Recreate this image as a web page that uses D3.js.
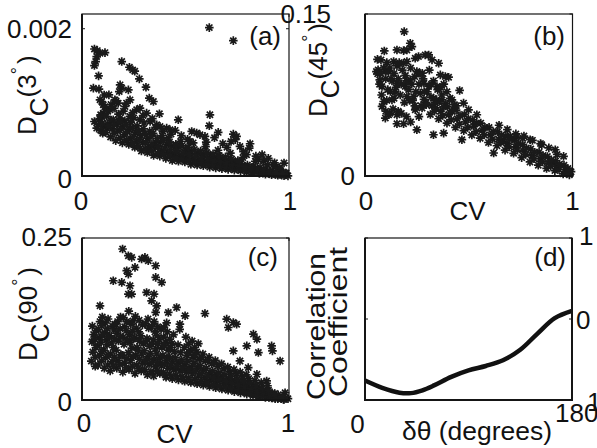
<!DOCTYPE html>
<html><head><meta charset="utf-8">
<script src="https://cdn.jsdelivr.net/npm/d3@7"></script>
<style>
body{margin:0;background:#fff}
svg{display:block}
text{font-family:"Liberation Sans",Arial,Helvetica,sans-serif;fill:#111}
</style>
</head><body>
<svg id="chart" width="597" height="448"></svg>
<script>
// ---------------- DATA ----------------
// Panel (a): CV vs D_C(3°)
const pointsA = [
[0.615,0.002015],[0.731,0.001838],
[0.060,0.001725],[0.074,0.001703],[0.087,0.001667],[0.111,0.001676],[0.071,0.001622],[0.066,0.001554],[0.060,0.0015],[0.080,0.00136],[0.055,0.001193],[0.087,0.001034],[0.095,0.001012],[0.103,0.000967],
[0.192,0.001554],[0.229,0.001477],[0.245,0.001441],[0.255,0.001423],[0.277,0.001319],[0.309,0.001206],[0.325,0.001057],[0.345,0.001012],[0.374,0.000845],
[0.184,0.001238],[0.192,0.001193],[0.224,0.00117],[0.180,0.001147],[0.130,0.001102],[0.159,0.001034],[0.175,0.000989],[0.208,0.000944],[0.232,0.001034],[0.264,0.000899],[0.280,0.000921],[0.312,0.000854],[0.135,0.000899],[0.103,0.000854],[0.095,0.000809],[0.090,0.000831],[0.079,0.000696],[0.103,0.000673],[0.119,0.00065],[0.071,0.00065],[0.151,0.000763],[0.184,0.000786],[0.232,0.000809],[0.280,0.000763],[0.329,0.000741],[0.361,0.000696],[0.377,0.000673],[0.409,0.00065],[0.425,0.000628],[0.465,0.000763],[0.530,0.000605],[0.554,0.000583],[0.570,0.00056],[0.594,0.000538],[0.618,0.000831],[0.615,0.000682],[0.658,0.000592],[0.731,0.000569],[0.747,0.000538],[0.740,0.000492],[0.763,0.000402],[0.812,0.000438],[0.808,0.000379],[0.795,0.000289],[0.852,0.000221],[0.877,0.000199],[0.924,0.000154],[0.976,0.000176],[0.986,0.000041],[0.957,0.000086],[0.940,0.000131],
[0.085,0.00078],[0.098,0.00072],[0.11,0.00094],[0.125,0.00088],[0.14,0.00097],[0.155,0.00092],[0.165,0.00102],[0.2,0.00088],[0.215,0.00099],[0.245,0.00086],[0.25,0.00079],[0.295,0.00082],[0.3,0.00072],[0.34,0.00078],[0.355,0.00066],[0.39,0.00061],[0.43,0.00057],[0.45,0.00062],[0.48,0.00055],[0.51,0.0005],[0.09,0.00062],[0.1,0.00058],[0.107,0.0011],[0.082,0.00118],[0.06,0.00074],
[0.52,0.00047],[0.6,0.00046],[0.64,0.00052],[0.68,0.00044],[0.7,0.00039],[0.72,0.00047],[0.78,0.00033],[0.84,0.00027],[0.87,0.00029],[0.9,0.00024],[0.93,0.00018],
[0.115,5.9e-4],[0.125,7.1e-4],[0.118,8.1e-4],
[0.138,5.3e-4],[0.146,6.4e-4],[0.141,7.6e-4],
[0.163,4.8e-4],[0.172,6.1e-4],[0.168,7.0e-4],[0.176,8.4e-4],
[0.195,4.5e-4],[0.204,5.6e-4],[0.198,6.7e-4],[0.207,7.5e-4],
[0.226,4.3e-4],[0.233,5.1e-4],[0.228,6.3e-4],[0.236,7.3e-4],
[0.255,3.9e-4],[0.263,4.7e-4],[0.258,5.9e-4],[0.266,6.8e-4],
[0.287,3.4e-4],[0.294,4.5e-4],[0.284,5.5e-4],[0.296,6.4e-4],
[0.316,3.2e-4],[0.323,4.0e-4],[0.318,5.1e-4],[0.327,6.1e-4],
[0.346,2.8e-4],[0.352,3.9e-4],[0.355,4.6e-4],[0.344,5.8e-4],
[0.376,2.7e-4],[0.384,3.4e-4],[0.379,4.6e-4],[0.387,5.5e-4],
[0.405,2.4e-4],[0.414,3.2e-4],[0.409,4.3e-4],[0.417,5.2e-4],
[0.436,2.1e-4],[0.445,3.0e-4],[0.441,4.1e-4],
[0.466,2.0e-4],[0.473,2.8e-4],[0.468,3.9e-4],[0.476,4.7e-4],
[0.497,1.9e-4],[0.505,2.6e-4],[0.501,3.5e-4],
[0.526,1.6e-4],[0.534,2.4e-4],[0.528,3.3e-4],[0.537,4.5e-4],
[0.556,1.5e-4],[0.564,2.2e-4],[0.559,3.1e-4],
[0.586,1.4e-4],[0.593,2.0e-4],[0.588,2.9e-4],[0.597,4.0e-4],
[0.617,1.2e-4],[0.624,1.9e-4],[0.621,2.7e-4],
[0.646,1.1e-4],[0.655,1.7e-4],[0.649,2.5e-4],[0.657,3.5e-4],
[0.676,1.0e-4],[0.684,1.6e-4],[0.679,2.3e-4],
[0.706,0.9e-4],[0.714,1.5e-4],[0.709,2.1e-4],[0.717,3.1e-4],
[0.736,0.8e-4],[0.744,1.3e-4],[0.739,1.9e-4],
[0.766,0.7e-4],[0.774,1.2e-4],[0.769,1.7e-4],[0.777,2.5e-4],
[0.796,0.55e-4],[0.804,0.95e-4],[0.799,1.5e-4],
[0.826,0.45e-4],[0.834,0.85e-4],[0.829,1.3e-4],[0.837,2.0e-4],
[0.857,0.35e-4],[0.865,0.7e-4],[0.86,1.15e-4],
[0.886,0.25e-4],[0.893,0.55e-4],[0.889,0.95e-4],[0.896,1.5e-4],
[0.916,0.18e-4],[0.924,0.45e-4],[0.919,0.75e-4],
[0.946,0.1e-4],[0.953,0.3e-4],[0.949,0.6e-4],[0.955,1.05e-4],
[0.976,0.05e-4],[0.984,0.2e-4],[0.981,0.4e-4],[0.995,0.02e-4],
[0.13,6.8e-4],[0.155,5.8e-4],[0.158,7.0e-4],[0.185,5.2e-4],[0.188,6.4e-4],[0.183,7.4e-4],[0.215,4.9e-4],[0.218,6.0e-4],[0.213,7.0e-4],[0.245,4.4e-4],[0.248,5.4e-4],[0.243,6.5e-4],[0.275,4.0e-4],[0.278,5.0e-4],[0.273,6.1e-4],[0.305,3.7e-4],[0.308,4.6e-4],[0.303,5.7e-4],[0.335,3.4e-4],[0.338,4.3e-4],[0.333,5.4e-4],[0.365,3.1e-4],[0.368,4.0e-4],[0.363,5.1e-4],[0.395,2.9e-4],[0.398,3.8e-4],[0.393,4.8e-4],[0.425,2.7e-4],[0.428,3.6e-4],[0.423,4.6e-4],[0.455,2.5e-4],[0.458,3.4e-4],[0.453,4.3e-4],[0.485,2.3e-4],[0.488,3.1e-4],[0.483,4.1e-4],[0.515,2.1e-4],[0.518,2.9e-4],[0.513,3.9e-4],[0.545,1.9e-4],[0.548,2.7e-4],[0.543,3.6e-4],[0.575,1.8e-4],[0.578,2.5e-4],[0.573,3.4e-4],[0.605,1.6e-4],[0.608,2.3e-4],[0.603,3.2e-4],[0.635,1.5e-4],[0.638,2.1e-4],[0.633,3.0e-4],[0.665,1.3e-4],[0.668,2.0e-4],[0.663,2.8e-4],[0.695,1.2e-4],[0.698,1.8e-4],[0.693,2.6e-4],[0.725,1.1e-4],[0.728,1.6e-4],[0.723,2.3e-4],[0.755,0.95e-4],[0.758,1.45e-4],[0.753,2.1e-4],[0.785,0.8e-4],[0.788,1.3e-4],[0.815,0.65e-4],[0.818,1.1e-4],[0.845,0.55e-4],[0.848,0.95e-4],[0.875,0.4e-4],[0.878,0.8e-4],[0.905,0.3e-4],[0.908,0.6e-4],[0.935,0.2e-4],[0.938,0.45e-4],[0.965,0.1e-4],[0.968,0.3e-4]
];
// Panel (b): CV vs D_C(45°)
const pointsB = [
[0.189,0.1337],[0.218,0.1229],[0.226,0.1198],[0.202,0.1167],[0.186,0.1161],[0.154,0.1167],[0.093,0.1158],[0.077,0.1075],[0.063,0.0983],[0.055,0.0967],[0.061,0.0946],[0.071,0.089],[0.082,0.0829],[0.098,0.0967],[0.114,0.0967],[0.138,0.106],[0.154,0.1019],[0.186,0.1044],[0.202,0.106],[0.242,0.109],[0.258,0.1106],[0.29,0.1121],[0.307,0.1121],[0.323,0.1075],[0.355,0.1044],[0.25,0.0967],[0.276,0.0952],[0.284,0.0859],[0.363,0.0936],[0.387,0.0921],[0.403,0.0915],[0.218,0.089],[0.194,0.0829],[0.154,0.0859],[0.122,0.0782],[0.13,0.0705],[0.09,0.069],[0.082,0.0644],[0.098,0.0536],[0.114,0.0567],[0.154,0.0484],[0.186,0.0484],[0.25,0.0428],[0.154,0.0567],[0.242,0.0613],[0.202,0.0736],[0.234,0.0736],[0.266,0.0767],[0.307,0.0829],[0.347,0.0829],[0.33,0.0721],[0.371,0.0705],[0.419,0.0705],[0.456,0.0792],[0.432,0.0659],[0.475,0.0675],[0.499,0.0613],[0.539,0.0567],[0.33,0.0382],[0.379,0.0397],[0.467,0.0336],[0.62,0.0213],[0.668,0.0336],[0.7,0.0367],[0.73,0.036],[0.76,0.035],[0.796,0.0336],[0.852,0.029],[0.917,0.0243],[0.957,0.0182],[0.911,0.012],[0.981,0.0028],
[0.07,0.085],[0.08,0.075],[0.1,0.09],[0.11,0.08],[0.12,0.1],[0.13,0.088],[0.14,0.095],[0.15,0.082],[0.16,0.09],[0.17,0.075],[0.18,0.098],[0.19,0.068],[0.2,0.088],[0.21,0.08],[0.22,0.1],[0.23,0.07],[0.24,0.092],[0.26,0.085],[0.27,0.065],[0.28,0.09],[0.3,0.078],[0.31,0.098],[0.33,0.088],[0.34,0.063],[0.35,0.08],[0.37,0.075],[0.38,0.085],[0.39,0.067],[0.41,0.072],[0.42,0.06],[0.44,0.065],[0.1,0.06],[0.12,0.058],[0.16,0.06],[0.2,0.055],[0.22,0.05],[0.24,0.065],[0.26,0.055],[0.14,0.072],[0.09,0.1],[0.06,0.108],
[0.075,0.095],[0.105,0.105],[0.125,0.09],[0.145,0.078],[0.165,0.105],[0.175,0.085],[0.195,0.093],[0.215,0.07],[0.225,0.085],[0.245,0.078],[0.265,0.095],[0.285,0.078],[0.295,0.068],[0.32,0.085],[0.345,0.07],[0.365,0.082],[0.395,0.078],[0.105,0.07],[0.135,0.062],[0.175,0.058],
[0.275,0.063],[0.284,0.071],
[0.315,0.057],[0.323,0.065],[0.318,0.073],
[0.355,0.053],[0.364,0.06],[0.358,0.069],
[0.395,0.049],[0.404,0.057],[0.398,0.064],
[0.436,0.045],[0.444,0.053],[0.439,0.061],
[0.476,0.042],[0.484,0.05],[0.479,0.057],
[0.515,0.038],[0.524,0.046],[0.519,0.052],
[0.555,0.035],[0.564,0.042],[0.558,0.049],
[0.595,0.031],[0.604,0.038],[0.598,0.045],
[0.636,0.028],[0.644,0.034],[0.639,0.041],[0.646,0.047],
[0.675,0.024],[0.684,0.03],[0.679,0.037],[0.686,0.043],
[0.716,0.021],[0.724,0.027],[0.719,0.033],[0.727,0.039],
[0.755,0.017],[0.764,0.023],[0.759,0.029],[0.766,0.037],
[0.795,0.013],[0.804,0.019],[0.799,0.025],[0.807,0.033],
[0.835,0.01],[0.844,0.016],[0.839,0.022],[0.846,0.03],
[0.875,0.007],[0.884,0.012],[0.879,0.018],[0.886,0.026],
[0.915,0.005],[0.924,0.009],[0.919,0.014],[0.926,0.02],
[0.955,0.002],[0.964,0.006],[0.959,0.01],
[0.985,0.001],[0.993,0.004],
[0.295,0.066],[0.335,0.06],[0.338,0.068],[0.375,0.056],[0.378,0.064],[0.415,0.052],[0.418,0.06],[0.455,0.048],[0.458,0.056],[0.495,0.045],[0.498,0.053],[0.535,0.041],[0.538,0.049],[0.575,0.038],[0.578,0.045],[0.615,0.034],[0.618,0.041],[0.655,0.031],[0.658,0.038],[0.695,0.027],[0.698,0.034],[0.735,0.024],[0.738,0.03],[0.775,0.02],[0.778,0.026],[0.815,0.016],[0.818,0.022],[0.855,0.013],[0.858,0.019],[0.895,0.009],[0.898,0.015],[0.935,0.006],[0.938,0.011],[0.975,0.003],[0.978,0.007]
];
// Panel (c): CV vs D_C(90°)
const pointsC = [
[0.196,0.233],[0.224,0.2227],[0.24,0.2201],[0.288,0.2175],[0.304,0.2201],[0.32,0.215],[0.356,0.2072],[0.256,0.2046],[0.216,0.1995],[0.224,0.1943],[0.356,0.1892],[0.385,0.1815],[0.151,0.184],[0.192,0.1815],[0.232,0.1763],[0.224,0.1634],[0.24,0.1634],[0.312,0.166],[0.348,0.1634],[0.336,0.1531],[0.361,0.1454],[0.457,0.1428],[0.087,0.1454],[0.356,0.1351],[0.417,0.1351],[0.498,0.1299],[0.594,0.1335],[0.473,0.117],[0.699,0.1248],[0.731,0.1196],[0.747,0.117],[0.707,0.1119],[0.828,0.1016],[0.845,0.0938],[0.916,0.0835],[0.92,0.0758],[0.957,0.0603],[0.852,0.0732],[0.796,0.0835],[0.731,0.0758],[0.763,0.0603],[0.803,0.05],[0.845,0.0397],[0.892,0.0294],[0.981,0.0113],[0.973,0.001],
[0.045,0.06],[0.052,0.074],[0.048,0.09],[0.056,0.101],[0.05,0.114],
[0.078,0.054],[0.085,0.069],[0.076,0.084],[0.083,0.096],[0.079,0.109],[0.087,0.121],
[0.108,0.049],[0.114,0.065],[0.105,0.077],[0.117,0.093],[0.11,0.104],[0.113,0.119],
[0.136,0.045],[0.145,0.059],[0.138,0.071],[0.143,0.088],[0.134,0.099],[0.147,0.114],
[0.168,0.049],[0.174,0.061],[0.165,0.077],[0.176,0.091],[0.169,0.103],[0.172,0.121],
[0.197,0.043],[0.205,0.057],[0.194,0.069],[0.203,0.086],[0.198,0.097],[0.206,0.113],[0.2,0.127],
[0.227,0.047],[0.235,0.061],[0.224,0.073],[0.233,0.089],[0.229,0.101],[0.236,0.117],[0.226,0.137],
[0.256,0.041],[0.264,0.054],[0.259,0.069],[0.266,0.081],[0.254,0.096],[0.262,0.111],[0.258,0.129],
[0.286,0.045],[0.294,0.057],[0.288,0.071],[0.296,0.087],[0.284,0.099],[0.292,0.116],
[0.316,0.039],[0.324,0.055],[0.318,0.067],[0.326,0.083],[0.314,0.095],[0.322,0.111],[0.319,0.125],
[0.346,0.037],[0.354,0.051],[0.348,0.063],[0.356,0.079],[0.344,0.093],[0.352,0.105],[0.349,0.121],
[0.376,0.041],[0.384,0.053],[0.378,0.065],[0.386,0.081],[0.374,0.093],[0.382,0.109],
[0.406,0.035],[0.414,0.049],[0.408,0.061],[0.416,0.077],[0.404,0.089],[0.412,0.105],[0.409,0.119],
[0.436,0.033],[0.444,0.047],[0.438,0.059],[0.446,0.075],[0.434,0.087],[0.442,0.101],
[0.466,0.031],[0.474,0.045],[0.468,0.057],[0.476,0.073],[0.464,0.085],[0.472,0.109],
[0.496,0.029],[0.504,0.043],[0.498,0.054],[0.506,0.069],[0.494,0.081],[0.502,0.097],
[0.526,0.027],[0.534,0.041],[0.528,0.051],[0.536,0.066],[0.524,0.077],[0.532,0.091],
[0.556,0.025],[0.564,0.037],[0.558,0.049],[0.566,0.063],[0.554,0.074],[0.562,0.087],
[0.586,0.023],[0.594,0.034],[0.588,0.046],[0.596,0.06],[0.584,0.071],
[0.616,0.021],[0.624,0.031],[0.618,0.042],[0.626,0.056],[0.614,0.066],
[0.646,0.019],[0.654,0.029],[0.648,0.039],[0.656,0.052],[0.644,0.061],
[0.676,0.017],[0.684,0.026],[0.678,0.036],[0.686,0.048],[0.674,0.056],
[0.706,0.015],[0.714,0.024],[0.708,0.033],[0.716,0.044],[0.704,0.051],
[0.736,0.013],[0.744,0.021],[0.738,0.03],[0.746,0.041],[0.734,0.047],
[0.766,0.011],[0.774,0.019],[0.768,0.027],[0.776,0.037],[0.764,0.043],
[0.796,0.009],[0.804,0.016],[0.798,0.024],[0.806,0.033],[0.794,0.039],
[0.826,0.007],[0.834,0.014],[0.828,0.021],[0.836,0.03],
[0.856,0.005],[0.864,0.011],[0.858,0.018],[0.866,0.027],
[0.886,0.004],[0.894,0.008],[0.888,0.014],[0.896,0.022],
[0.916,0.003],[0.924,0.006],[0.918,0.011],
[0.946,0.002],[0.954,0.004],[0.948,0.008],
[0.976,0.001],[0.984,0.003],[0.995,0.002],
[0.063,0.066],[0.067,0.081],[0.061,0.094],[0.069,0.107],[0.064,0.052],
[0.094,0.06],[0.097,0.075],[0.092,0.089],[0.099,0.101],[0.095,0.115],[0.098,0.128],
[0.124,0.054],[0.127,0.07],[0.121,0.085],[0.129,0.098],[0.123,0.11],[0.126,0.125],
[0.153,0.052],[0.158,0.066],[0.151,0.081],[0.157,0.095],[0.154,0.108],[0.159,0.117],
[0.183,0.055],[0.188,0.07],[0.187,0.098],[0.184,0.11],[0.186,0.128],
[0.213,0.05],[0.217,0.064],[0.218,0.093],[0.214,0.107],[0.216,0.121],
[0.243,0.052],[0.247,0.067],[0.241,0.08],[0.248,0.094],[0.244,0.106],[0.246,0.122],
[0.273,0.049],[0.277,0.063],[0.271,0.077],[0.278,0.091],[0.274,0.105],[0.276,0.123],
[0.303,0.047],[0.307,0.062],[0.301,0.076],[0.308,0.09],[0.306,0.118],
[0.333,0.044],[0.337,0.058],[0.331,0.072],[0.338,0.086],[0.336,0.114],
[0.363,0.045],[0.367,0.058],[0.361,0.071],[0.368,0.087],[0.364,0.099],[0.366,0.113],
[0.393,0.042],[0.397,0.056],[0.391,0.069],[0.398,0.084],[0.394,0.097],[0.396,0.112],
[0.423,0.04],[0.427,0.054],[0.421,0.067],[0.428,0.081],[0.424,0.094],
[0.453,0.038],[0.457,0.052],[0.451,0.065],
[0.483,0.036],[0.487,0.049],[0.481,0.062],
[0.513,0.034],[0.517,0.047],[0.511,0.06],[0.518,0.074],[0.514,0.086],
[0.543,0.032],[0.547,0.044],[0.541,0.057],[0.548,0.07],[0.544,0.081],
[0.573,0.029],[0.577,0.041],[0.571,0.053],[0.578,0.066],
[0.603,0.027],[0.607,0.037],[0.601,0.049],[0.608,0.061],
[0.633,0.024],[0.637,0.034],[0.631,0.045],[0.638,0.057],
[0.663,0.022],[0.667,0.032],[0.661,0.042],
[0.693,0.02],[0.697,0.029],[0.691,0.039],
[0.723,0.018],[0.727,0.026],[0.721,0.036],
[0.753,0.015],[0.757,0.023],[0.751,0.032],
[0.783,0.013],[0.787,0.021],[0.781,0.029],
[0.813,0.011],[0.817,0.018],[0.811,0.026],
[0.843,0.008],[0.847,0.015],[0.841,0.022],
[0.873,0.006],[0.877,0.012],[0.871,0.018],
[0.903,0.004],[0.907,0.009],[0.901,0.015],
[0.933,0.002],[0.937,0.006],[0.931,0.01],
[0.963,0.002],[0.967,0.005]
];
// Panel (d): correlation coefficient vs angle difference
const angleD = [0,15,30,40,50,60,75,90,105,120,135,150,165,180];
const corrD  = [-0.76,-0.85,-0.91,-0.915,-0.88,-0.82,-0.715,-0.635,-0.58,-0.51,-0.38,-0.18,0.01,0.10];

const yTicksA = [0, 0.002], yTickLabelsA = ["0", "0.002"];
const yTicksB = [0, 0.15],  yTickLabelsB = ["0", "0.15"];
const yTicksC = [0, 0.25],  yTickLabelsC = ["0", "0.25"];
const xTicksCV = [0, 1],    xTickLabelsCV = ["0", "1"];
const xTicksD = [0, 180],   xTickLabelsD = ["0", "180"];
const yTicksD = [-1, 0, 1], yTickLabelsD = ["1", "0", "1"];

// ---------------- LAYOUT ----------------
const svg = d3.select("#chart");
const FS = 26;
const panels = {
  a:{x0:82, x1:289,   y0:14,  y1:176, ymax:0.0022},
  b:{x0:365,x1:572.5, y0:14,  y1:176, ymax:0.15},
  c:{x0:82, x1:289,   y0:238, y1:400, ymax:0.25},
  d:{x0:365,x1:572,   y0:238, y1:400}
};
const ink = "#151515";
const star = "M0,-4.3V4.3M-4.3,0H4.3M-3.1,-3.1L3.1,3.1M-3.1,3.1L3.1,-3.1";

function frame(p, thickRight){
  const g = svg.append("g");
  g.append("rect").attr("x",p.x0).attr("y",p.y0).attr("width",p.x1-p.x0).attr("height",p.y1-p.y0)
    .attr("fill","none").attr("stroke",ink).attr("stroke-width",1.2);
  g.append("line").attr("x1",p.x0).attr("x2",p.x0).attr("y1",p.y0).attr("y2",p.y1+1).attr("stroke",ink).attr("stroke-width",2);
  g.append("line").attr("x1",p.x0-1).attr("x2",p.x1+1).attr("y1",p.y1).attr("y2",p.y1).attr("stroke",ink).attr("stroke-width",2);
  if(thickRight) g.append("line").attr("x1",p.x1).attr("x2",p.x1).attr("y1",p.y0).attr("y2",p.y1+1).attr("stroke",ink).attr("stroke-width",2);
}
function ticks(x, y, xt, yt, p){
  const g = svg.append("g").attr("stroke",ink).attr("stroke-width",1);
  xt.forEach(v=>{
    g.append("line").attr("x1",x(v)).attr("x2",x(v)).attr("y1",p.y1).attr("y2",p.y1-3);
    g.append("line").attr("x1",x(v)).attr("x2",x(v)).attr("y1",p.y0).attr("y2",p.y0+3);
  });
  yt.forEach(v=>{
    g.append("line").attr("x1",p.x0).attr("x2",p.x0+3).attr("y1",y(v)).attr("y2",y(v));
    g.append("line").attr("x1",p.x1).attr("x2",p.x1-3).attr("y1",y(v)).attr("y2",y(v));
  });
}
function txt(x, y, s, anchor, size){
  return svg.append("text").attr("x",x).attr("y",y).attr("text-anchor",anchor||"start")
    .attr("font-size",size||FS).text(s);
}
function dcLabel(bx, by, inner){
  const t = svg.append("text").attr("transform",`translate(${bx},${by}) rotate(-90)`).attr("font-size",26);
  t.append("tspan").text("D");
  t.append("tspan").attr("dy",12).text("C");
  t.append("tspan").attr("dy",-12).text("(" + inner);
  t.append("tspan").attr("dy",-12).attr("font-size",18).text("\u00B0");
  t.append("tspan").attr("dy",12).attr("dx",3).text(")");
}

function scatter(p, pts, yt){
  const x = d3.scaleLinear().domain([0,1]).range([p.x0,p.x1]);
  const y = d3.scaleLinear().domain([0,p.ymax]).range([p.y1,p.y0]);
  svg.append("g").selectAll("path").data(pts).join("path")
    .attr("d",star).attr("transform",d=>`translate(${x(d[0])},${y(d[1])})`)
    .attr("fill","none").attr("stroke","#1a1a1a").attr("stroke-width",1.7);
  frame(p,false);
  ticks(x,y,xTicksCV,yt,p);
  return {x,y};
}

// (a)
{
  const p = panels.a; const {x,y} = scatter(p, pointsA, yTicksA);
  txt(72, y(yTicksA[0])+12, yTickLabelsA[0], "end");
  txt(72, y(yTicksA[1])+9.5, yTickLabelsA[1], "end");
  txt(x(xTicksCV[0])-1, 210, xTickLabelsCV[0], "middle");
  txt(x(xTicksCV[1])+1, 210, xTickLabelsCV[1], "middle");
  txt(177.5, 223, "CV", "middle");
  txt(281, 45, "(a)", "end");
  dcLabel(36, 135, "3");
}
// (b)
{
  const p = panels.b; const {x,y} = scatter(p, pointsB, yTicksB);
  txt(355, y(yTicksB[0])+9, yTickLabelsB[0], "end");
  txt(331, y(yTicksB[1])+9, yTickLabelsB[1], "end");
  txt(x(xTicksCV[0])+1, 210, xTickLabelsCV[0], "middle");
  txt(x(xTicksCV[1]), 210, xTickLabelsCV[1], "middle");
  txt(467.5, 220, "CV", "middle");
  txt(565, 45, "(b)", "end");
  dcLabel(327, 117, "45");
}
// (c)
{
  const p = panels.c; const {x,y} = scatter(p, pointsC, yTicksC);
  txt(72, y(yTicksC[0])+11, yTickLabelsC[0], "end");
  txt(72, y(yTicksC[1])+8, yTickLabelsC[1], "end");
  txt(x(xTicksCV[0])+2, 432, xTickLabelsCV[0], "middle");
  txt(x(xTicksCV[1])-1, 432, xTickLabelsCV[1], "middle");
  txt(174.5, 443, "CV", "middle");
  txt(278, 266, "(c)", "end");
  dcLabel(37, 361, "90");
}
// (d)
{
  const p = panels.d;
  const x = d3.scaleLinear().domain([0,180]).range([p.x0,p.x1]);
  const y = d3.scaleLinear().domain([-1,1]).range([p.y1,p.y0]);
  const data = angleD.map((a,i)=>[a,corrD[i]]);
  svg.append("path").datum(data)
    .attr("d", d3.line().x(d=>x(d[0])).y(d=>y(d[1])).curve(d3.curveCatmullRom.alpha(0.5)))
    .attr("fill","none").attr("stroke","#111").attr("stroke-width",4.5).attr("stroke-linecap","butt");
  frame(p,true);
  ticks(x,y,xTicksD,yTicksD,p);
  txt(579, y(yTicksD[2])+7, yTickLabelsD[2]);
  txt(576, y(yTicksD[1])+10, yTickLabelsD[1]);
  txt(587, y(yTicksD[0])+11, yTickLabelsD[0]);
  txt(x(xTicksD[0])-7.5, 433, xTickLabelsD[0], "middle");
  txt(555, 422, xTickLabelsD[1], "start");
  txt(402, 440, "\u03B4\u03B8 (degrees)", "start").attr("textLength",150).attr("lengthAdjust","spacingAndGlyphs");
  txt(566, 266, "(d)", "end");
  svg.append("text").attr("transform","translate(325,400) rotate(-90)").attr("font-size",25)
    .attr("textLength",147).attr("lengthAdjust","spacingAndGlyphs").text("Correlation");
  svg.append("text").attr("transform","translate(347,397) rotate(-90)").attr("font-size",25)
    .attr("textLength",150).attr("lengthAdjust","spacingAndGlyphs").text("Coefficient");
}
</script>
</body></html>
